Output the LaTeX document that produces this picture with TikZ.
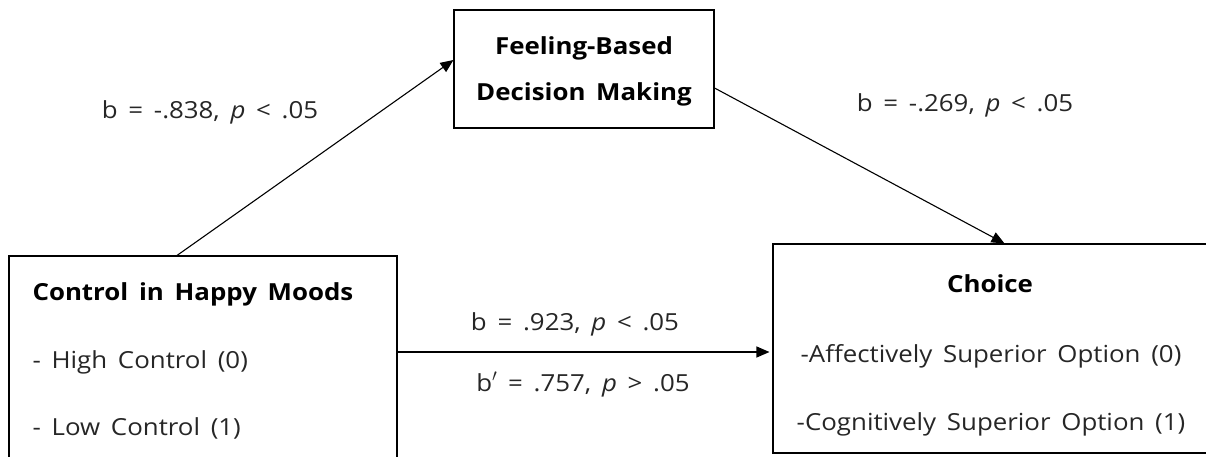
\documentclass[tikz,border=0pt]{standalone}
\usepackage{fontspec}
\setmainfont{Open Sans}[FakeStretch=1.1,WordSpace=1.6]
\usetikzlibrary{arrows.meta,positioning}

\begin{document}
\begin{tikzpicture}[x=1pt,y=-1pt,>={Triangle[length=13pt,width=11pt]},
	box/.style={draw,line width=1.1pt,rectangle,inner sep=0pt},
	lbl/.style={font=\fontsize{23.5}{28}\selectfont,text=black!85},
	head/.style={font=\fontsize{23.5}{28}\selectfont\bfseries}]

	\useasboundingbox (0,0) rectangle (1206,456);

	\node [box,minimum width=388pt,minimum height=210pt]	(cim)	at (203,361)	{};
	\node [box,minimum width=260pt,minimum height=118pt]	(fbd)	at (584,69)		{};
	\node [box,minimum width=443pt,minimum height=209pt]	(cho)	at (994.5,348.5)	{};

	% box texts
	\node [head,anchor=base west]	(cim_h)	at (29,300)		{Control in Happy Moods};
	\node [lbl,anchor=base west]	(cim_0)	at (29,368)		{- High Control (0)};
	\node [lbl,anchor=base west]	(cim_1)	at (29,435)		{- Low Control (1)};
	\node [head,anchor=base]		(fbd_1)	at (584,54)		{Feeling-Based};
	\node [head,anchor=base]		(fbd_2)	at (584,100)	{Decision Making};
	\node [head,anchor=base]		(cho_h)	at (990,292)	{Choice};
	\node [lbl,anchor=base]			(cho_0)	at (991,362)	{-Affectively Superior Option (0)};
	\node [lbl,anchor=base]			(cho_1)	at (991,430)	{-Cognitively Superior Option (1)};

	% path labels
	\node [lbl,anchor=base]	(a_lbl)		at (210,118)	{b = -.838, \textit{p} < .05};
	\node [lbl,anchor=base]	(b_lbl)		at (965,111)	{b = -.269, \textit{p} < .05};
	\node [lbl,anchor=base]	(c_lbl)		at (575,330)	{b = .923, \textit{p} < .05};
	\node [lbl,anchor=base]	(cp_lbl)	at (583,391)	{b$'$ = .757, \textit{p} > .05};

	\path [->,line width=1.1pt]	([xshift=-26pt]cim.north) edge ([yshift=9pt]fbd.west)
				([yshift=-19pt]fbd.east) edge ([xshift=10pt]cho.north)
				([yshift=9pt]cim.east) edge ([yshift=9pt,xshift=-3pt]cim.east -| cho.west);

\end{tikzpicture}
\end{document}
